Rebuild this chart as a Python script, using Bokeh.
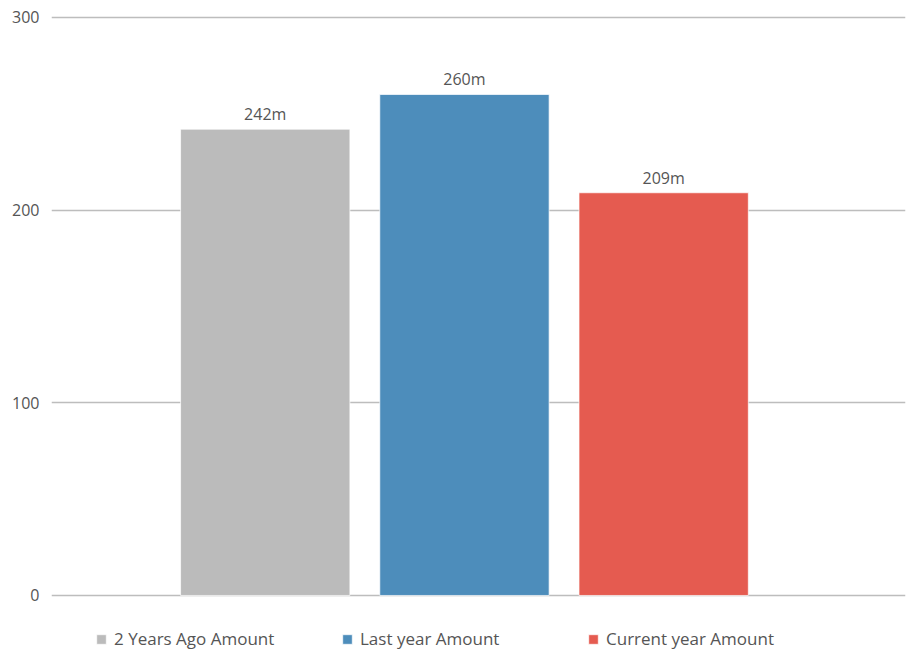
from bokeh.plotting import figure
from bokeh.models import Range1d, ColumnDataSource, Legend, LegendItem, FixedTicker
from bokeh.core.properties import value
from bokeh.embed import file_html
from bokeh.resources import INLINE

series = ["2 Years Ago Amount", "Last year Amount", "Current year Amount"]
amounts = [242, 260, 209]
labels = ["242m", "260m", "209m"]
colors = ["#bbbbbb", "#4d8dbb", "#e55b50"]
y_ticks = [0, 100, 200, 300]

positions = [i + 0.5 for i in range(len(series))]

p = figure(width=906, height=652, output_backend="svg", toolbar_location=None,
           x_range=Range1d(-0.573, 3.714), y_range=Range1d(-29.6, 301),
           min_border_left=51, min_border_right=1, min_border_top=15, min_border_bottom=0)
p.outline_line_color = None
p.xaxis.visible = False
p.xgrid.visible = False
p.yaxis.ticker = FixedTicker(ticks=y_ticks)
p.yaxis.axis_line_color = None
p.yaxis.major_tick_line_color = None
p.yaxis.minor_tick_line_color = None
p.yaxis.major_label_standoff = 6
p.yaxis.major_label_text_font = "Open Sans"
p.yaxis.major_label_text_font_size = "16px"
p.yaxis.major_label_text_color = "#555555"
p.ygrid.grid_line_color = "#bdbdbd"
p.ygrid.grid_line_width = 1.3

items = []
for i, name in enumerate(series):
    src = ColumnDataSource(dict(x=[positions[i]], top=[amounts[i]], lab=[labels[i]]))
    r = p.vbar(x="x", top="top", width=0.85, bottom=0, source=src,
               fill_color=colors[i], line_color="#ffffff", line_alpha=0.7, line_width=1)
    p.text(x="x", y="top", text="lab", source=src, text_align="center",
           text_baseline="bottom", y_offset=-4, text_font_size=value("16px"),
           text_color="#555555", text_font=value("Open Sans"))
    items.append(LegendItem(label=name, renderers=[r]))

legend = Legend(items=items, orientation="horizontal", location=(44, 2),
                glyph_width=12, glyph_height=12, label_standoff=7, label_width=200,
                label_height=20, spacing=27, padding=0, margin=0, border_line_color=None,
                label_text_font="Open Sans", label_text_font_size="17px",
                label_text_color="#555555", background_fill_alpha=0)
p.add_layout(legend)

open("out.html", "w").write(file_html(p, INLINE))
